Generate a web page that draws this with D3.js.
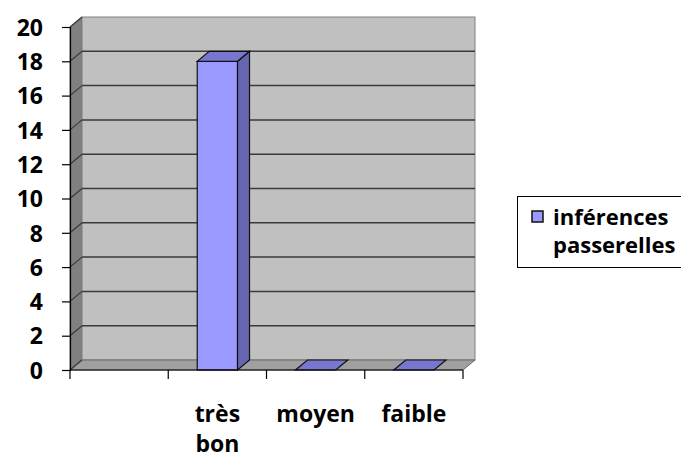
<!DOCTYPE html>
<html>
<head>
<meta charset="utf-8">
<script src="https://cdn.jsdelivr.net/npm/d3@7"></script>
<style>
  body { margin: 0; background: #fff; }
  text { font-family: "Open Sans", "Liberation Sans", sans-serif; font-weight: bold; fill: #000; }
</style>
</head>
<body>
<div id="chart"></div>
<script>
// chart data
const categories = ["", "très bon", "moyen", "faible"];
const values = [null, 18, 0, 0];
const seriesName = ["inférences", "passerelles"];
const yTicks = [0, 2, 4, 6, 8, 10, 12, 14, 16, 18, 20];

const width = 681, height = 459;
const plot = {left: 70, right: 463, top: 27, bottom: 370};
const depth = {dx: 12, dy: -10}; // fake 3d offset

const svg = d3.select("#chart").append("svg")
  .attr("width", width)
  .attr("height", height);

const x = d3.scaleBand().domain(categories).range([plot.left, plot.right]).padding(0);
const y = d3.scaleLinear().domain([0, 20]).range([plot.bottom, plot.top]);

const pts = p => p.map(d => d.join(",")).join(" ");

// left wall
svg.append("polygon")
  .attr("points", pts([[plot.left, plot.top], [plot.left + depth.dx, plot.top + depth.dy],
    [plot.left + depth.dx, plot.bottom + depth.dy], [plot.left, plot.bottom]]))
  .attr("fill", "#808080").attr("stroke", "#6a6a6a");

// back wall
svg.append("rect")
  .attr("x", plot.left + depth.dx).attr("y", plot.top + depth.dy)
  .attr("width", plot.right - plot.left).attr("height", plot.bottom - plot.top)
  .attr("fill", "#c0c0c0").attr("stroke", "#808080");

// floor
svg.append("polygon")
  .attr("points", pts([[plot.left, plot.bottom], [plot.right, plot.bottom],
    [plot.right + depth.dx, plot.bottom + depth.dy], [plot.left + depth.dx, plot.bottom + depth.dy]]))
  .attr("fill", "#a0a0a0").attr("stroke", "#6a6a6a");

// gridlines (back wall + left wall)
const grid = svg.append("g");
yTicks.filter(t => t > 0 && t < 20).forEach(t => {
  grid.append("line")
    .attr("x1", plot.left + depth.dx).attr("x2", plot.right + depth.dx)
    .attr("y1", y(t) + depth.dy).attr("y2", y(t) + depth.dy)
    .attr("stroke", "#3a3a3a").attr("stroke-width", 1.5);
});
yTicks.forEach(t => {
  grid.append("line")
    .attr("x1", plot.left).attr("x2", plot.left + depth.dx)
    .attr("y1", y(t)).attr("y2", y(t) + depth.dy)
    .attr("stroke", "#3a3a3a").attr("stroke-width", 1.2);
});

// bars
const barW = x.bandwidth() * 0.41;
const bars = svg.append("g");
categories.forEach((c, i) => {
  const v = values[i];
  if (v == null) return;
  const x0 = x(c) + (x.bandwidth() - barW) / 2, x1 = x0 + barW;
  const y0 = y(v), yb = y(0);
  if (v > 0) {
    bars.append("rect")
      .attr("x", x0).attr("y", y0).attr("width", barW).attr("height", yb - y0)
      .attr("fill", "#9999ff").attr("stroke", "#111").attr("stroke-width", 1.2);
    bars.append("polygon")
      .attr("points", pts([[x1, y0], [x1 + depth.dx, y0 + depth.dy], [x1 + depth.dx, yb + depth.dy], [x1, yb]]))
      .attr("fill", "#6666b0").attr("stroke", "#111").attr("stroke-width", 1.2);
  }
  bars.append("polygon")
    .attr("points", pts([[x0, y0], [x1, y0], [x1 + depth.dx, y0 + depth.dy], [x0 + depth.dx, y0 + depth.dy]]))
    .attr("fill", "#7777d0").attr("stroke", "#111").attr("stroke-width", 1.2);
});

// y axis
const yAxis = svg.append("g").attr("transform", `translate(${plot.left},0)`)
  .call(d3.axisLeft(y).tickValues(yTicks).tickSize(8).tickPadding(19).tickFormat(d3.format("d")));
yAxis.select(".domain").attr("stroke", "#000").attr("stroke-width", 1.2);
yAxis.selectAll(".tick line").attr("stroke", "#000").attr("stroke-width", 1.2);
yAxis.selectAll("text").attr("font-size", 23).attr("font-family", null).attr("dy", "0.36em");

// x axis: ticks at category boundaries
const xAxis = svg.append("g").attr("transform", `translate(0,${plot.bottom})`);
xAxis.append("line").attr("x1", plot.left).attr("x2", plot.right)
  .attr("stroke", "#000").attr("stroke-width", 1.2);
categories.concat([null]).forEach((c, i) => {
  const xp = c == null ? plot.right : x(c);
  xAxis.append("line").attr("x1", xp).attr("x2", xp).attr("y1", 0).attr("y2", 9)
    .attr("stroke", "#000").attr("stroke-width", 1.2);
});
categories.forEach(c => {
  if (!c) return;
  const t = xAxis.append("text")
    .attr("text-anchor", "middle")
    .attr("font-size", 23);
  // wrap words that do not fit in the band
  const words = c.split(" ");
  const fits = words.join(" ").length * 13 < x.bandwidth() - 10;
  const lines = fits ? [c] : words;
  lines.forEach((w, k) => {
    t.append("tspan").attr("x", x(c) + x.bandwidth() / 2).attr("y", 52 + k * 30).text(w);
  });
});

// legend
const lg = svg.append("g");
lg.append("rect").attr("x", 517.5).attr("y", 196.5).attr("width", 170).attr("height", 71)
  .attr("fill", "#fff").attr("stroke", "#000");
lg.append("rect").attr("x", 532).attr("y", 211).attr("width", 11).attr("height", 11)
  .attr("fill", "#9999ff").attr("stroke", "#111").attr("stroke-width", 1.5);
seriesName.forEach((s, k) => {
  lg.append("text").attr("x", 553).attr("y", 225 + k * 28).attr("font-size", 22).text(s);
});
</script>
</body>
</html>
